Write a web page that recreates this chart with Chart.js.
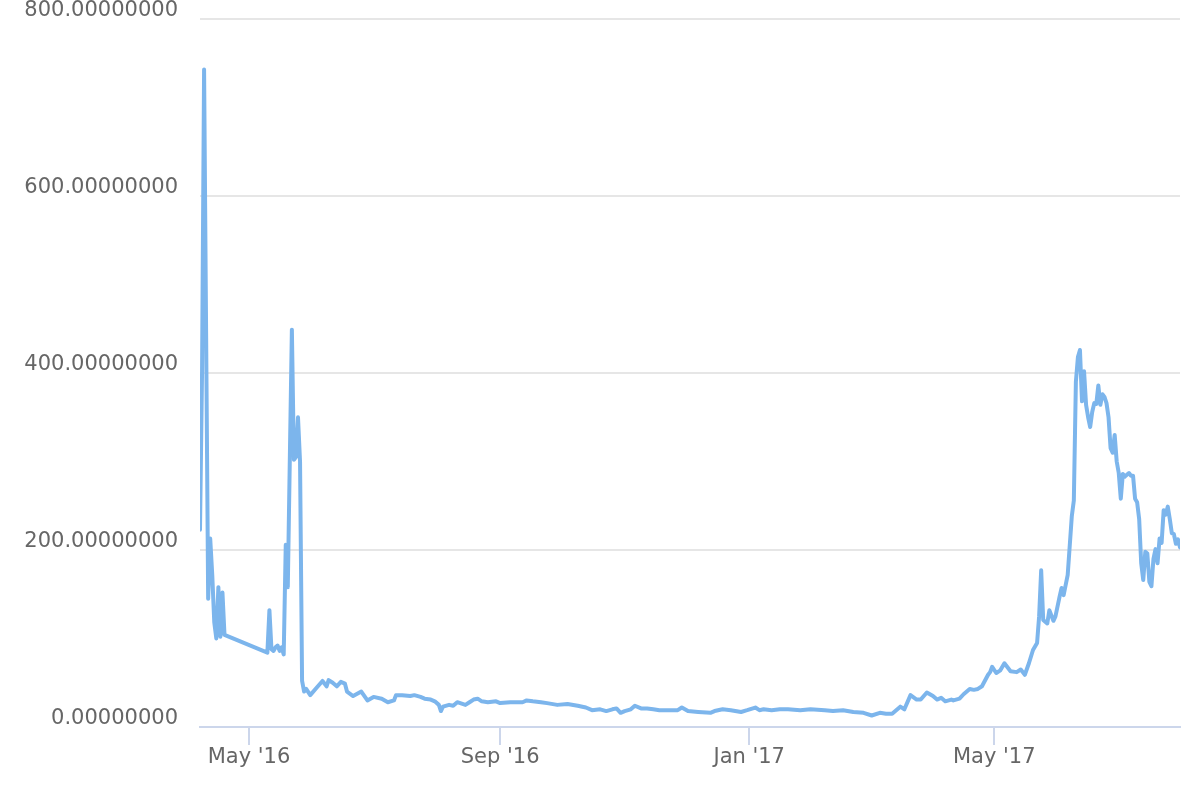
<!DOCTYPE html>
<html>
<head>
<meta charset="utf-8">
<script src="https://cdn.jsdelivr.net/npm/chart.js@4/dist/chart.umd.min.js"></script>
<style>
  html, body { margin: 0; padding: 0; background: #ffffff; }
  #wrap { width: 1200px; height: 800px; }
</style>
</head>
<body>
<div id="wrap"><canvas id="c" width="1200" height="800"></canvas></div>
<script>
// Days counted from 1 May 2016 (day 0)
const START_DATE = '2016-05-01';
const dayOffsets = [
  -24, -23, -22, -20, -19, -18, -17, -16, -15, -14, -13, -12,
  9, 10, 11, 12, 13, 14, 15, 16, 17, 18, 19, 21, 22, 23, 24, 25, 26, 27, 28, 30,
  33, 36, 38, 39, 41, 43, 45, 47, 48, 51, 55, 58, 61, 65, 68, 71, 72, 75, 79, 81,
  84, 86, 89, 91, 93, 94, 95, 98, 100, 102, 106, 108, 110, 112, 114, 117, 121,
  123, 128, 134, 136, 139, 143, 146, 151, 156, 161, 165, 168, 172, 175, 178, 180,
  182, 184, 187, 189, 192, 195, 198, 201, 205, 210, 212, 215, 220, 226, 228, 232,
  236, 241, 244, 248, 250, 252, 256, 260, 264, 270, 275, 282, 286, 291, 296, 301,
  305, 309, 312, 315, 319, 321, 324, 327, 329, 332, 335, 337, 339, 341, 344, 345,
  348, 350, 353, 355, 357, 359, 362, 363, 364, 366, 368, 370, 373, 376, 378, 380,
  382, 384, 386, 387, 388, 389, 391, 392, 394, 395, 397, 398, 399, 401, 403, 404,
  405, 406, 407, 408, 409, 410, 411, 412, 413, 414, 415, 416, 417, 418, 419, 420,
  421, 422, 423, 424, 425, 426, 427, 428, 429, 430, 431, 432, 433, 434, 435, 436,
  437, 438, 439, 440, 441, 442, 443, 444, 445, 446, 447, 448, 449, 450, 451, 452,
  453, 454, 455, 456
];
const prices = [
  223, 400, 743, 145, 213, 172, 118, 100, 158, 102, 152, 104,
  84, 132, 88, 86, 90, 92, 86, 90, 82, 206, 158, 449, 302, 305, 350, 300, 52, 40, 43, 36,
  44, 52, 46, 53, 50, 46, 51, 49, 40, 35, 40, 30, 34, 32, 28, 30, 36, 36, 35, 36,
  34, 32, 31, 29, 25, 18, 23, 25, 24, 28, 25, 28, 31, 32, 29, 28, 29,
  27, 28, 28, 30, 29, 28, 27, 25, 26, 24, 22, 19, 20, 18, 20, 21,
  16, 18, 20, 24, 21, 21, 20, 19, 19, 19, 22, 18, 17, 16, 18, 20,
  19, 17, 19, 22, 19, 20, 19, 20, 20, 19, 20, 19, 18, 19, 17, 16,
  13, 16, 15, 15, 23, 20, 36, 31, 31, 39, 35, 31, 33, 29, 31, 30,
  32, 37, 43, 42, 43, 46, 59, 62, 68, 61, 64, 72, 63, 62, 65, 59,
  72, 87, 95, 125, 177, 121, 117, 132, 120, 125, 147, 157, 149, 172, 238, 256,
  390, 418, 426, 368, 402, 364, 350, 339, 356, 366, 365, 386, 364, 376, 373, 366,
  350, 315, 310, 330, 300, 287, 258, 286, 283, 285, 287, 284, 284, 258, 254, 235,
  185, 166, 198, 196, 164, 159, 190, 201, 185, 213, 208, 245, 240, 249, 235, 219,
  218, 207, 212, 203
];
const tickDates = ['2016-05-01', '2016-09-01', '2017-01-01', '2017-05-01'];
const tickLabels = ["May '16", "Sep '16", "Jan '17", "May '17"];
const yTicks = [0, 200, 400, 600, 800];

const DAY = 86400000;
const startMs = Date.parse(START_DATE + 'T00:00:00Z');
const tickDays = tickDates.map(d => Math.round((Date.parse(d + 'T00:00:00Z') - startMs) / DAY));

const points = dayOffsets.map((d, i) => ({ x: d, y: prices[i] }));
const FONT = { family: 'DejaVu Sans', size: 21 };

new Chart(document.getElementById('c').getContext('2d'), {
  type: 'line',
  data: {
    datasets: [{
      data: points,
      borderColor: '#7cb5ec',
      borderWidth: 4,
      pointRadius: 0,
      tension: 0,
      fill: false,
      borderJoinStyle: 'round',
      borderCapStyle: 'round'
    }]
  },
  options: {
    responsive: false,
    animation: false,
    layout: { padding: { top: 19, right: 20, left: 0, bottom: 0 } },
    plugins: { legend: { display: false }, tooltip: { enabled: false } },
    scales: {
      x: {
        type: 'linear',
        min: dayOffsets[0],
        max: dayOffsets[dayOffsets.length - 1],
        afterBuildTicks: s => { s.ticks = tickDays.map(v => ({ value: v })); },
        afterFit: s => { s.height = 73; s.paddingLeft = 0; s.paddingRight = 0; },
        ticks: {
          autoSkip: false,
          maxRotation: 0,
          color: '#666666',
          font: FONT,
          padding: 0,
          callback: (v, i) => tickLabels[i]
        },
        grid: { drawOnChartArea: false, drawTicks: true, tickLength: 18, color: '#ccd6eb', lineWidth: 2 },
        border: { display: true, color: '#ccd6eb', width: 2 }
      },
      y: {
        min: yTicks[0],
        max: yTicks[yTicks.length - 1],
        afterBuildTicks: s => { s.ticks = yTicks.map(v => ({ value: v })); },
        afterFit: s => { s.width = 200; s.paddingTop = 0; s.paddingBottom = 0; },
        ticks: {
          color: '#666666',
          font: FONT,
          padding: 22,
          labelOffset: -8,
          callback: v => Number(v).toFixed(8)
        },
        grid: { color: '#e6e6e6', lineWidth: 2, drawTicks: false },
        border: { display: false }
      }
    }
  }
});
</script>
</body>
</html>
